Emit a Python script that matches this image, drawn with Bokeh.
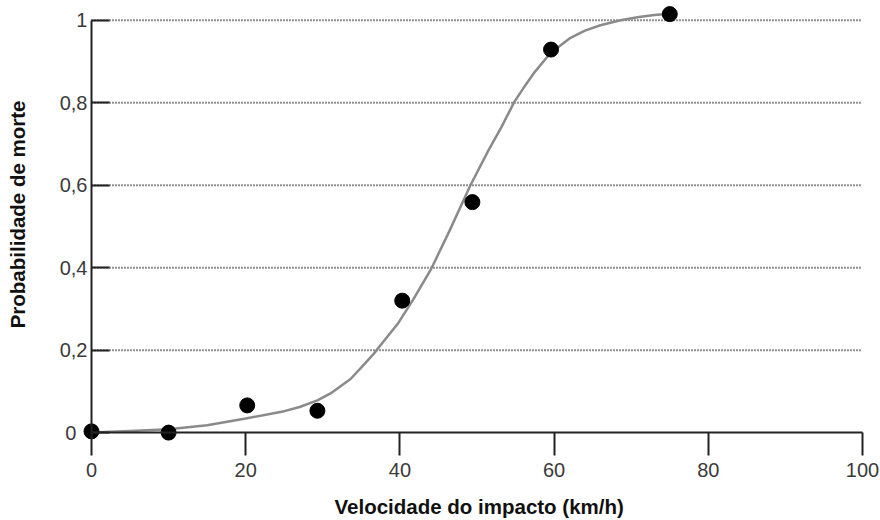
from bokeh.plotting import figure
from bokeh.models import Range1d, FixedTicker, Title
from bokeh.embed import file_html
from bokeh.resources import INLINE

# Observed points (impact speed km/h, probability of death)
speed = [0, 10, 20.2, 29.3, 40.3, 49.4, 59.6, 75]
prob = [0.003, 0.0, 0.066, 0.053, 0.32, 0.559, 0.929, 1.015]

# Fitted curve
curve_x = [0, 5, 10, 15, 20, 25, 27, 29.3, 31, 33.6, 35, 36.6, 38, 39.8, 41.7, 44.0,
           46.4, 49.1, 51.5, 53.2, 54.8, 56, 57.5, 59.5, 62, 64, 66, 68.6, 71, 73, 75]
curve_y = [0.0, 0.004, 0.008, 0.018, 0.034, 0.052, 0.062, 0.078, 0.095, 0.13, 0.158,
           0.191, 0.224, 0.266, 0.322, 0.395, 0.488, 0.598, 0.685, 0.742, 0.801, 0.835,
           0.875, 0.92, 0.956, 0.975, 0.988, 1.0, 1.008, 1.013, 1.016]

x_ticks = [0, 20, 40, 60, 80, 100]
y_ticks = [0, 0.2, 0.4, 0.6, 0.8, 1]
y_tick_labels = ["0\u00a0\u00a0", "0,2", "0,4", "0,6", "0,8", "1"]

TICK_FONT = "'Liberation Sans', Arial, sans-serif"
LABEL_FONT = "'Liberation Sans', Arial, sans-serif"
AXIS_COLOR = "#222222"

p = figure(width=880, height=520, output_backend="svg", toolbar_location=None,
           x_range=Range1d(-7.91, 102.33), y_range=Range1d(-0.138, 1.048),
           min_border_left=30, min_border_right=0, min_border_top=0,
           min_border_bottom=31)
p.outline_line_color = None
p.grid.visible = False
p.background_fill_color = "white"
p.border_fill_color = "white"

# dotted horizontal grid lines
p.segment(x0=x_ticks[0], x1=x_ticks[-1], y0=y_ticks[1:], y1=y_ticks[1:],
          line_color="#222222", line_width=2, line_dash="1 2")

# fitted curve
p.line(curve_x, curve_y, line_color="#8a8a8a", line_width=2.5)

# data points
p.scatter(speed, prob, size=15, fill_color="black", line_color="black")

# x axis
xa = p.xaxis[0]
xa.fixed_location = 0
xa.ticker = FixedTicker(ticks=x_ticks)
xa.bounds = (x_ticks[0], x_ticks[-1])
xa.major_tick_out = 23
xa.major_tick_in = 0
xa.minor_tick_line_color = None
xa.axis_line_width = 2
xa.axis_line_color = AXIS_COLOR
xa.major_tick_line_width = 2
xa.major_tick_line_color = AXIS_COLOR
xa.major_label_standoff = 7
xa.major_label_text_font = TICK_FONT
xa.major_label_text_font_size = "20px"
xa.major_label_text_color = "#3a3a3a"

# y axis
ya = p.yaxis[0]
ya.fixed_location = 0
ya.ticker = FixedTicker(ticks=y_ticks)
ya.major_label_overrides = dict(zip(y_ticks, y_tick_labels))
ya.bounds = (y_ticks[0], y_ticks[-1])
ya.major_tick_out = 0
ya.major_tick_in = 18
ya.minor_tick_line_color = None
ya.axis_line_width = 2
ya.axis_line_color = AXIS_COLOR
ya.major_tick_line_width = 2
ya.major_tick_line_color = AXIS_COLOR
ya.major_label_standoff = 4
ya.major_label_text_font = TICK_FONT
ya.major_label_text_font_size = "20px"
ya.major_label_text_color = "#3a3a3a"

p.add_layout(Title(text="Probabilidade de morte", align="right",
                   vertical_align="top",
                   text_font=LABEL_FONT, text_font_size="20.5px",
                   text_font_style="bold", text_color="#111111",
                   offset=100, standoff=0), "left")
p.add_layout(Title(text="Velocidade do impacto (km/h)", align="left",
                   text_font=LABEL_FONT, text_font_size="20.5px",
                   text_font_style="bold", text_color="#111111",
                   offset=304, standoff=6), "below")

open("out.html", "w").write(file_html(p, INLINE))
